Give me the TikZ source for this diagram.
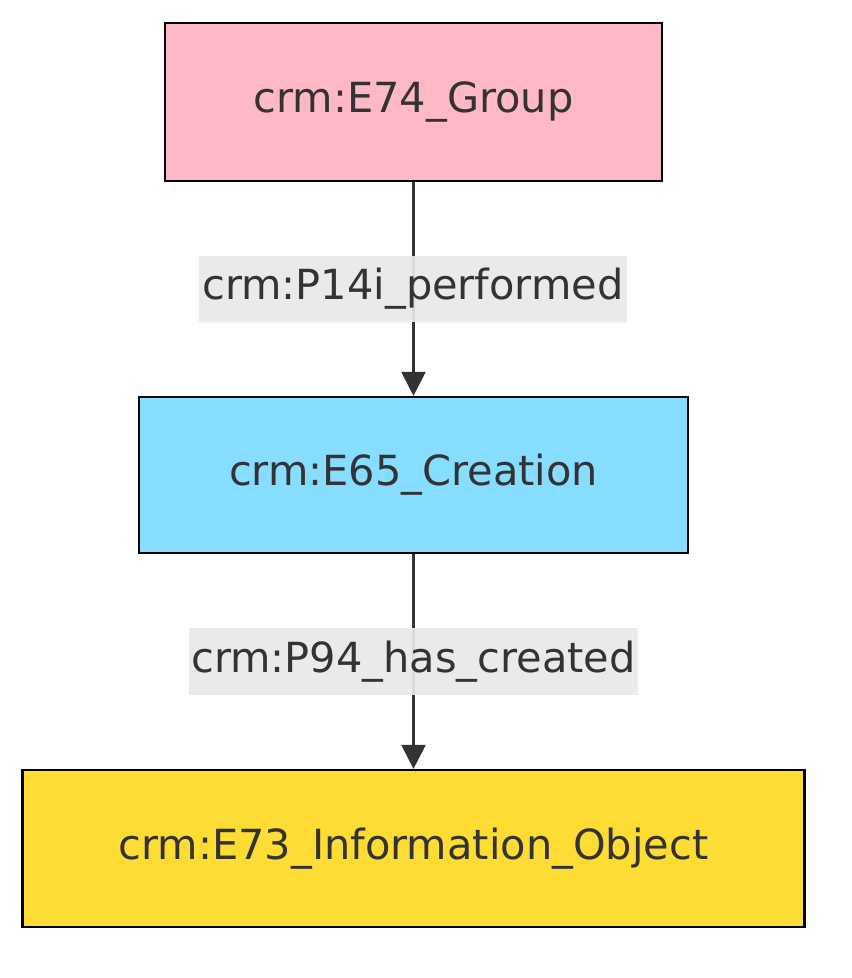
\documentclass[tikz,border=0pt]{standalone}
\usepackage{fontspec}
\setmainfont{DejaVu Sans}
\usetikzlibrary{arrows.meta}
\definecolor{txt}{HTML}{333333}
\definecolor{pinkfill}{HTML}{FFB8C6}
\definecolor{bluefill}{HTML}{86DDFF}
\definecolor{yellowfill}{HTML}{FDDC33}
\definecolor{lblbg}{HTML}{E8E8E8}
\tikzset{
  x=1pt, y=-1pt,
  box/.style={draw=black, line width=2.2pt, text=txt, font=\fontsize{41.5}{48}\selectfont, inner sep=0pt, anchor=center},
  lbl/.style={fill=lblbg, fill opacity=0.93, text opacity=1, text=txt, font=\fontsize{41.5}{48}\selectfont, inner sep=0pt, anchor=center},
  conn/.style={draw=txt, line width=2.2pt, -{Triangle[length=24pt, width=24pt]}}
}
\begin{document}
\begin{tikzpicture}
\useasboundingbox (0,0) rectangle (852,978);
\node[box, fill=pinkfill, minimum width=497pt, minimum height=158pt] (group) at (413.5,102) {crm:E74\_Group};
\node[box, fill=bluefill, minimum width=549pt, minimum height=156pt] (creation) at (413.5,475) {crm:E65\_Creation};
\node[box, fill=yellowfill, minimum width=782pt, minimum height=157pt] (info) at (413.5,848.5) {crm:E73\_Information\_Object};
\draw[conn] (group.south) -- (creation.north);
\draw[conn] (creation.south) -- (info.north);
\node[lbl, minimum width=428pt, minimum height=66pt] (l1) at (413,289) {crm:P14i\_performed};
\node[lbl, minimum width=449pt, minimum height=67pt] (l2) at (413.5,661.5) {crm:P94\_has\_created};
\end{tikzpicture}
\end{document}
